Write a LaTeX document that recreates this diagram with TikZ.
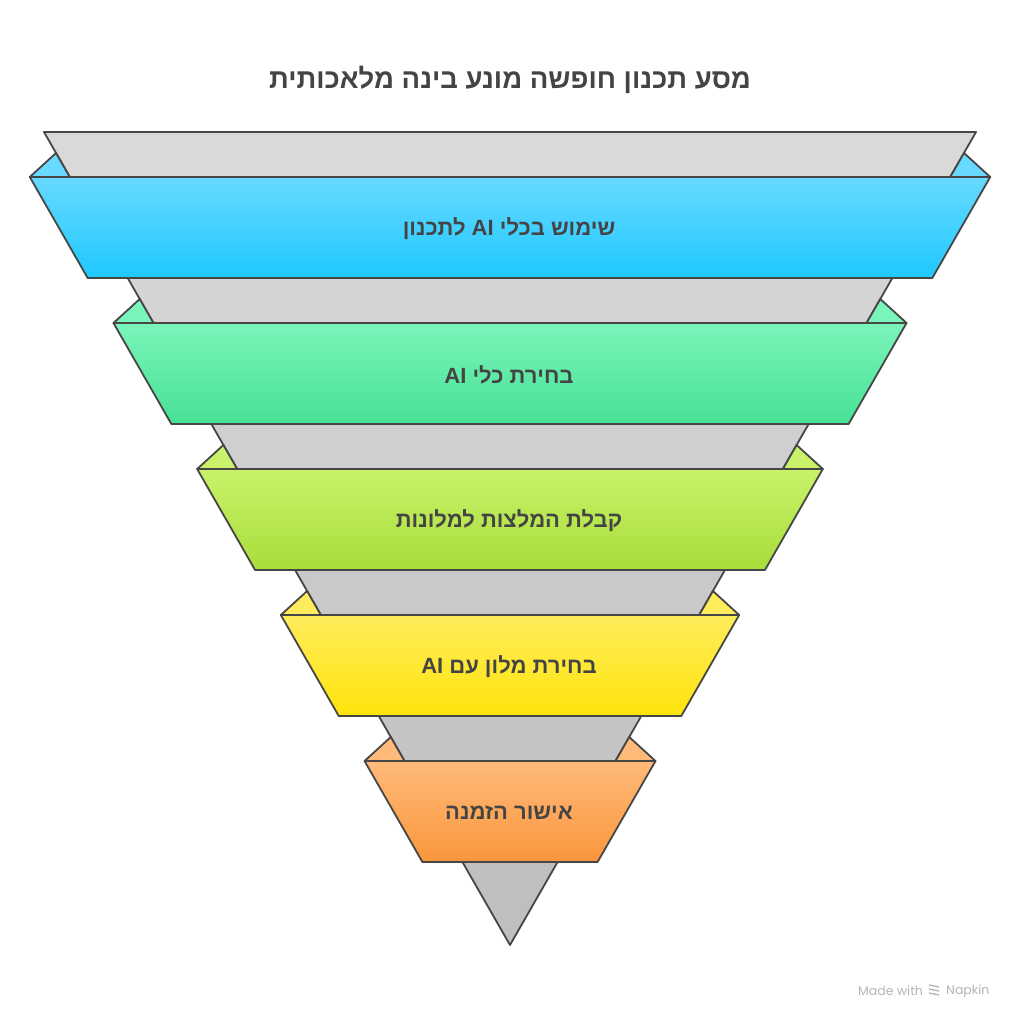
\documentclass[tikz,border=0pt]{standalone}
\usepackage{fontspec}
\setmainfont{Liberation Sans}
\newfontfamily\hebfont[Script=Hebrew]{Liberation Sans}
\newfontfamily\markfont{Poppins}
\TeXXeTstate=1

\definecolor{edgegray}{HTML}{464646}
\definecolor{textgray}{HTML}{444444}
\definecolor{markgray}{HTML}{B4B4B4}
\definecolor{skytop}{HTML}{68D9FF}
\definecolor{skybot}{HTML}{1EC8FF}
\definecolor{minttop}{HTML}{7AF5B9}
\definecolor{mintbot}{HTML}{48E096}
\definecolor{limetop}{HTML}{C9F26A}
\definecolor{limebot}{HTML}{A8DD3A}
\definecolor{suntop}{HTML}{FFEC5C}
\definecolor{sunbot}{HTML}{FFE40A}
\definecolor{peachtop}{HTML}{FFBA7A}
\definecolor{peachbot}{HTML}{FA963C}

\def\levelsep{146}
\def\bandheight{101}
\def\bandshift{40}

\begin{document}
\begin{tikzpicture}[x=1pt,y=-1pt,declare function={hw(\y)=0.57319*(945-\y);}]
        \tikzstyle{back}=[draw=edgegray,line width=1.8pt,line join=round]
        \tikzstyle{band}=[back,shading=axis]
        \tikzstyle{bandtext}=[text=textgray,font=\hebfont\bfseries\fontsize{22}{26}\selectfont]
        \tikzstyle{titletext}=[text=textgray,font=\hebfont\bfseries\fontsize{27.5}{32}\selectfont]
        \tikzstyle{watermark}=[text=markgray,font=\markfont\fontsize{12.5}{15}\selectfont,inner sep=0pt]

        \useasboundingbox (0,0) rectangle (1020,1024);

        % Title
        \node[titletext] (title) at (510,80) {\beginR מסע תכנון חופשה מונע בינה מלאכותית\endR};

        % Draw the back of the funnel, one grey slice per level
        \foreach \k in {0,...,4} {
            \pgfmathsetmacro\ya{132+\levelsep*\k}
            \pgfmathsetmacro\yb{\ya+\levelsep}
            \pgfmathtruncatemacro\tone{15+2*\k}
            \draw[back,fill=black!\tone] ({510-hw(\ya)},\ya) -- ({510+hw(\ya)},\ya)
                -- ({510+hw(\yb)},\yb) -- ({510-hw(\yb)},\yb) -- cycle;
        }
        \draw[back,fill=black!25] ({510-hw(862)},862) -- ({510+hw(862)},862) -- (510,945) -- cycle;

        % Draw the coloured bands with their folded corners
        \foreach \k/\ctop/\cbot/\txt in {
                0/skytop/skybot/{\beginR שימוש בכלי \beginL AI\endL{}  לתכנון\endR},
                1/minttop/mintbot/{\beginR בחירת כלי \beginL AI\endL\endR},
                2/limetop/limebot/{\beginR קבלת המלצות למלונות\endR},
                3/suntop/sunbot/{\beginR בחירת מלון עם \beginL AI\endL\endR},
                4/peachtop/peachbot/{\beginR אישור הזמנה\endR}} {
            \pgfmathsetmacro\ya{177+\levelsep*\k}
            \pgfmathsetmacro\yb{\ya+\bandheight}
            \draw[back,fill=\ctop] ({510-hw(\ya)-\bandshift},\ya) -- ({510-hw(\ya-24)},\ya-24)
                -- ({510-hw(\ya)},\ya) -- cycle;
            \draw[back,fill=\ctop] ({510+hw(\ya)+\bandshift},\ya) -- ({510+hw(\ya-24)},\ya-24)
                -- ({510+hw(\ya)},\ya) -- cycle;
            \draw[band,top color=\ctop,bottom color=\cbot]
                ({510-hw(\ya)-\bandshift},\ya) -- ({510+hw(\ya)+\bandshift},\ya)
                -- ({510+hw(\yb)+\bandshift},\yb) -- ({510-hw(\yb)-\bandshift},\yb) -- cycle;
            \node[bandtext] (L-\k) at (509,{\ya+52}) {\txt};
        }

        % Watermark
        \node[watermark,anchor=west] (made) at (858,991) {Made with};
        \node[watermark,anchor=west] (napkin) at (946,991) {Napkin};
        \foreach \i in {0,1,2}
            \draw[markgray,line width=1.3pt] (929,{985+4*\i}) -- (939,{987+4*\i});
\end{tikzpicture}
\end{document}
